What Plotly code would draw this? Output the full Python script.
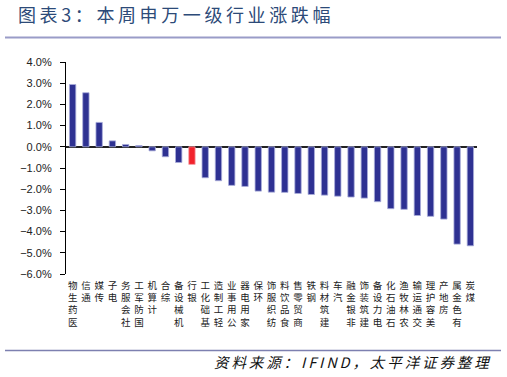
import plotly.graph_objects as go

categories = ["医药生物", "通信", "传媒", "电子", "社会服务", "国防军工", "计算机", "综合",
              "机械设备", "银行", "基础化工", "轻工制造", "公用事业", "家用电器", "环保",
              "纺织服饰", "食品饮料", "商贸零售", "钢铁", "建筑材料", "汽车", "非银金融",
              "建筑装饰", "电力设备", "石油石化", "农林牧渔", "交通运输", "美容护理",
              "房地产", "有色金属", "煤炭"]
values = [2.94, 2.55, 1.15, 0.28, 0.11, 0.06, -0.19, -0.47, -0.74, -0.83, -1.46, -1.60,
          -1.82, -1.87, -2.09, -2.14, -2.15, -2.20, -2.25, -2.28, -2.33, -2.37, -2.42,
          -2.59, -2.92, -2.95, -3.24, -3.28, -3.41, -4.59, -4.67]
highlight = "银行"
y_ticks = [4, 3, 2, 1, 0, -1, -2, -3, -4, -5, -6]
y_tick_labels = ["4.0%", "3.0%", "2.0%", "1.0%", "0.0%", "−1.0%", "−2.0%", "−3.0%",
                 "−4.0%", "−5.0%", "−6.0%"]
title_text = "图表3：本周申万一级行业涨跌幅"
source_text = "资料来源：IFIND，太平洋证券整理"

W, H = 507, 377
L, R, T, B = 66, 477, 62, 274

def px_x(px):
    return (px - L) / (R - L)

def px_y(py):
    return (B - py) / (B - T)

blue = "#2E3192"
red = "#F2222C"
colors = [red if c == highlight else blue for c in categories]
edges = ["#F4A0A6" if c == highlight else "#A9ADDB" for c in categories]

ticktext = ["<br>".join(reversed(list(c))) for c in categories]

fig = go.Figure()
fig.add_trace(go.Bar(
    x=list(range(len(categories))), y=values,
    marker=dict(color=colors, line=dict(color=edges, width=0.8)),
    width=0.48,
))

def spaced(s, sp="\u200a"):
    return sp.join(list(s))

fig.update_layout(
    width=W, height=H,
    margin=dict(l=L, r=W - R, t=T, b=H - B, pad=0, autoexpand=False),
    paper_bgcolor="white", plot_bgcolor="white",
    showlegend=False,
    font=dict(family="Noto Sans CJK SC, Noto Sans, sans-serif", color="#222"),
    title=dict(
        text=spaced(title_text, "\u2009"),
        xref="container", yref="container",
        x=18 / W, y=1 - 16 / H, xanchor="left", yanchor="middle",
        font=dict(size=18, color="#2C4A78", family="Noto Sans CJK SC"),
        pad=dict(l=0, r=0, t=0, b=0),
    ),
    xaxis=dict(
        range=[-0.5, len(categories) - 0.5],
        tickvals=list(range(len(categories))), ticktext=ticktext,
        tickangle=0, showline=False, showgrid=False, zeroline=False, ticks="",
        tickfont=dict(size=9.5, family="Noto Sans CJK SC", color="#222"),
        automargin=False, ticklabelstandoff=4,
    ),
    yaxis=dict(
        range=[-6, 4], tickvals=y_ticks, ticktext=y_tick_labels,
        showline=True, linecolor="#000", linewidth=1.2,
        ticks="outside", ticklen=5, tickcolor="#000", tickwidth=1,
        showgrid=False, zeroline=True, zerolinecolor="#222", zerolinewidth=1.5,
        tickfont=dict(size=11, family="Liberation Sans, Arial", color="#222"),
        ticklabelstandoff=6, automargin=False,
    ),
    shapes=[
        dict(type="line", xref="paper", yref="paper", x0=px_x(5), x1=px_x(501),
             y0=px_y(37.5), y1=px_y(37.5), line=dict(color="#9A9CC8", width=2)),
        dict(type="line", xref="paper", yref="paper", x0=px_x(5), x1=px_x(501),
             y0=px_y(350.5), y1=px_y(350.5), line=dict(color="#7D80B0", width=1.5)),
    ],
    annotations=[
        dict(text="<i>" + spaced(source_text, "\u2009") + "</i>", xref="paper", yref="paper",
             x=px_x(352), y=px_y(361), xanchor="center", yanchor="middle", showarrow=False,
             font=dict(size=14.5, color="#111", family="Noto Sans CJK SC")),
    ],
)

fig.write_html("out.html", config={"displayModeBar": False},
               post_script="document.body.style.margin='0';")
